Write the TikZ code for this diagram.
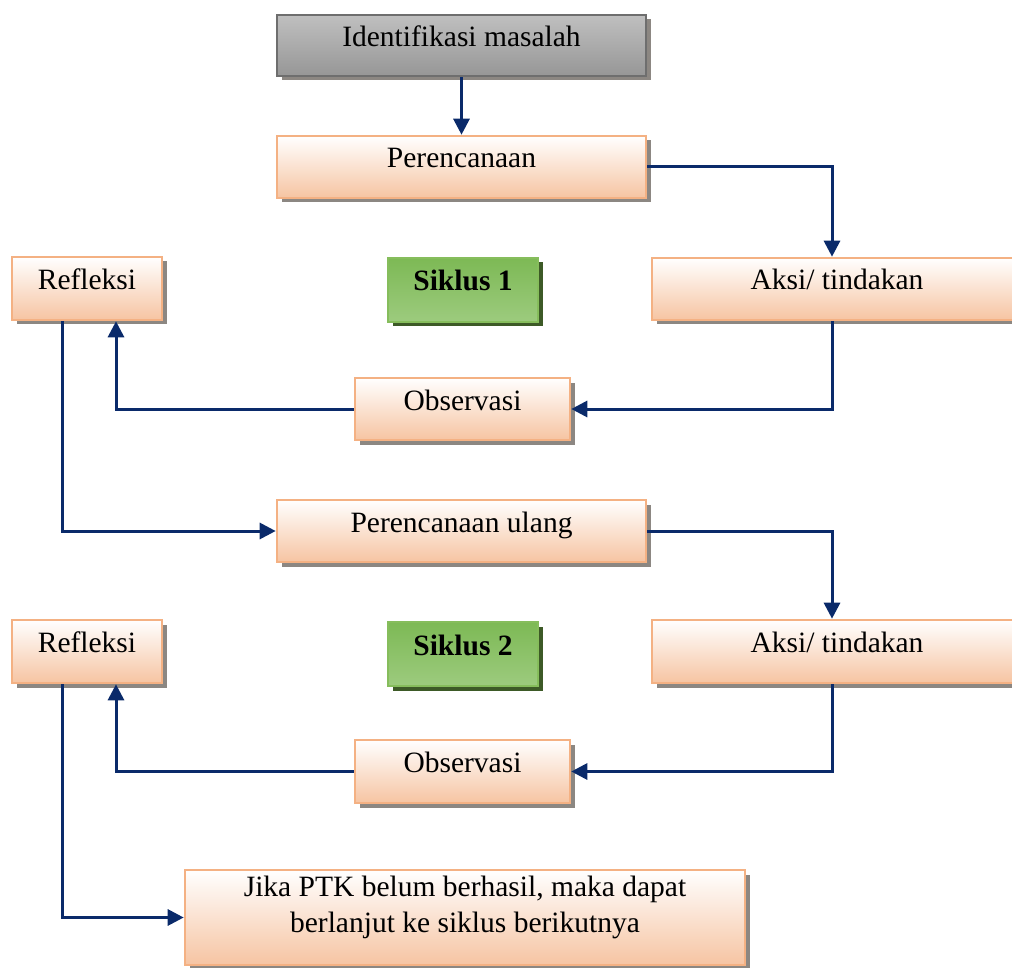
\documentclass[tikz,border=0pt]{standalone}
\usepackage{fontspec}
\setmainfont{Liberation Serif}
\usetikzlibrary{arrows.meta}
\definecolor{orbord}{HTML}{F4B183}
\definecolor{peach}{HTML}{F6C4A2}
\definecolor{shd}{HTML}{8C8782}
\definecolor{navy}{HTML}{0A2A6A}
\definecolor{grbord}{HTML}{6E6E6E}
\definecolor{gnbord}{HTML}{86BD5C}
\definecolor{gnshd}{HTML}{3D5A27}
\definecolor{gntop}{HTML}{7DB955}
\definecolor{gnmid}{HTML}{68A83F}
\definecolor{gnbot}{HTML}{9DCB7E}
\tikzset{
  basebox/.style={rectangle, inner sep=0pt, line width=2.6pt, align=center,
    text height=20pt, text depth=18pt, font=\fontsize{29.5}{36}\selectfont},
  orbox/.style={basebox, draw=orbord, top color=white, bottom color=peach,
    preaction={fill=shd, transform canvas={xshift=4.5pt,yshift=-4.5pt}}},
  graybox/.style={basebox, draw=grbord, top color=gray!50, middle color=gray!12, bottom color=gray!82,
    preaction={fill=shd, transform canvas={xshift=4.5pt,yshift=-4.5pt}}},
  greenbox/.style={basebox, draw=gnbord, top color=gntop, middle color=gnmid, bottom color=gnbot,
    font=\fontsize{29.5}{36}\selectfont\bfseries,
    preaction={fill=gnshd, transform canvas={xshift=4.5pt,yshift=-4.5pt}}},
  arr/.style={draw=navy, line width=3pt, -{Triangle[length=16pt,width=16pt]}}
}
\begin{document}
\begin{tikzpicture}[x=1pt,y=-1pt]
\useasboundingbox (0,0) rectangle (1012,968);
\node[graybox, minimum width=369pt, minimum height=61pt] (iden) at (461.5,45.5) {Identifikasi masalah};
\node[orbox, minimum width=369pt, minimum height=62pt] (per1) at (461.5,167) {Perencanaan};
\node[orbox, minimum width=150pt, minimum height=63pt] (ref1) at (87,288.5) {Refleksi};
\node[greenbox, minimum width=150pt, minimum height=64pt] (sik1) at (463,290) {Siklus 1};
\node[orbox, minimum width=370pt, minimum height=62pt] (aksi1) at (837,289) {Aksi/ tindakan};
\node[orbox, minimum width=215pt, minimum height=62pt] (obs1) at (462.5,409) {Observasi};
\node[orbox, minimum width=369pt, minimum height=62pt] (per2) at (461.5,531) {Perencanaan ulang};
\node[orbox, minimum width=150pt, minimum height=63pt] (ref2) at (87,651.5) {Refleksi};
\node[greenbox, minimum width=150pt, minimum height=64pt] (sik2) at (463,654) {Siklus 2};
\node[orbox, minimum width=370pt, minimum height=63pt] (aksi2) at (837,651.5) {Aksi/ tindakan};
\node[orbox, minimum width=215pt, minimum height=63pt] (obs2) at (462.5,771.5) {Observasi};
\node[orbox, minimum width=560pt, minimum height=95pt, text depth=63pt] (fin) at (465,917.5)
  {\begin{tabular}[t]{@{}c@{}}Jika PTK belum berhasil, maka dapat\\berlanjut ke siklus berikutnya\end{tabular}};

\draw[arr] (iden.south) -- (per1.north);
\draw[arr] (per1.east) -| ([xshift=-5pt]aksi1.north);
\draw[arr] ([xshift=-5pt]aksi1.south) |- (obs1.east);
\draw[arr] (obs1.west) -| ([xshift=29pt]ref1.south);
\draw[arr] ([xshift=-25pt]ref1.south) |- (per2.west);
\draw[arr] (per2.east) -| ([xshift=-5pt]aksi2.north);
\draw[arr] ([xshift=-5pt]aksi2.south) |- (obs2.east);
\draw[arr] (obs2.west) -| ([xshift=29pt]ref2.south);
\draw[arr] ([xshift=-25pt]ref2.south) |- (fin.west);
\end{tikzpicture}
\end{document}
